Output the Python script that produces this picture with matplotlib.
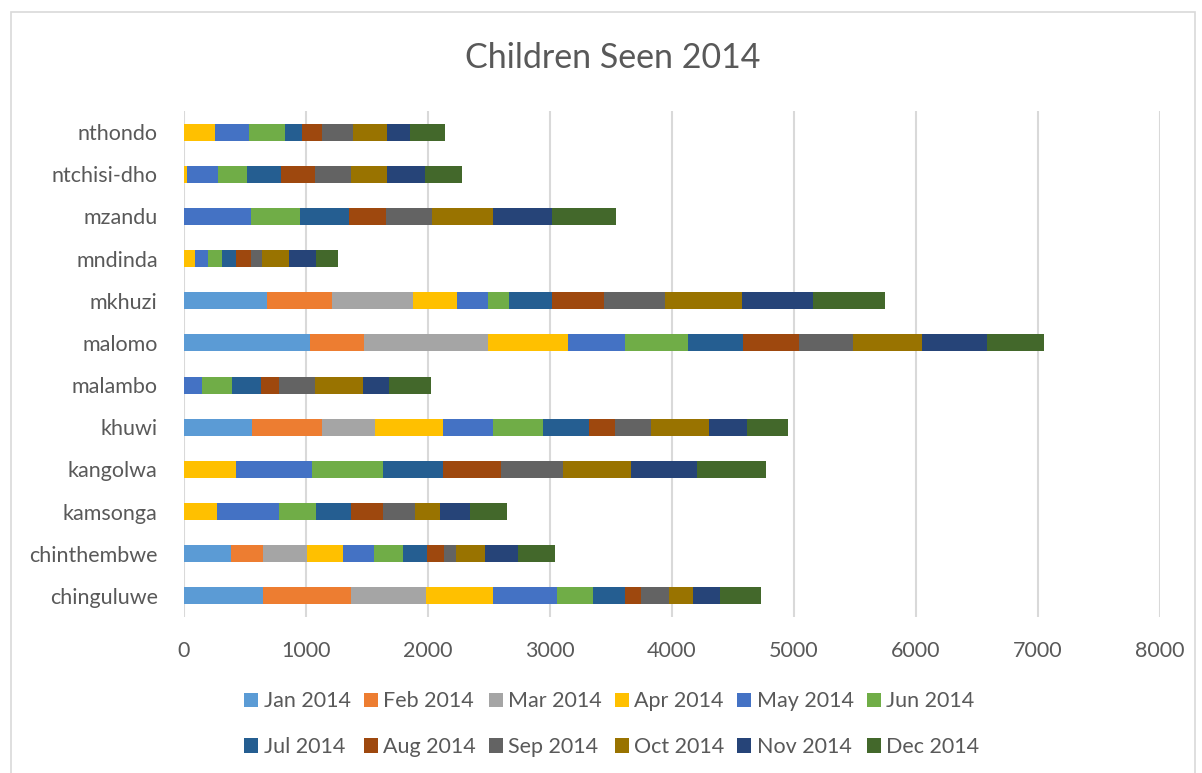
import matplotlib
matplotlib.use("Agg")
import matplotlib.pyplot as plt
from matplotlib.patches import Rectangle
import numpy as np

plt.rcParams['font.family'] = ['Lato', 'DejaVu Sans']

categories = ["chinguluwe", "chinthembwe", "kamsonga", "kangolwa", "khuwi", "malambo",
              "malomo", "mkhuzi", "mndinda", "mzandu", "ntchisi-dho", "nthondo"]
months = ["Jan 2014", "Feb 2014", "Mar 2014", "Apr 2014", "May 2014", "Jun 2014",
          "Jul 2014", "Aug 2014", "Sep 2014", "Oct 2014", "Nov 2014", "Dec 2014"]

# values per month, ordered as categories
jan = [651, 386, 0, 0, 561, 0, 1032, 684, 0, 0, 0, 0]
feb = [715, 265, 0, 0, 567, 0, 440, 531, 0, 0, 0, 0]
mar = [616, 356, 0, 0, 435, 0, 1016, 660, 0, 0, 0, 0]
apr = [550, 298, 271, 424, 563, 0, 656, 366, 93, 0, 27, 254]
may = [525, 249, 509, 622, 406, 151, 468, 252, 107, 550, 249, 282]
jun = [296, 241, 304, 582, 407, 243, 518, 173, 115, 400, 244, 293]
jul = [259, 195, 282, 496, 381, 238, 454, 353, 115, 399, 271, 137]
aug = [134, 142, 268, 473, 213, 143, 460, 424, 120, 309, 279, 169]
sep = [225, 98, 257, 509, 295, 295, 443, 498, 93, 373, 296, 247]
oct_ = [200, 239, 208, 561, 471, 400, 561, 630, 214, 503, 295, 282]
nov = [224, 271, 249, 539, 318, 208, 537, 588, 227, 482, 312, 192]
dec = [334, 303, 296, 567, 336, 347, 462, 588, 175, 528, 307, 279]

series = [jan, feb, mar, apr, may, jun, jul, aug, sep, oct_, nov, dec]
colors = ["#5B9BD5", "#ED7D31", "#A5A5A5", "#FFC000", "#4472C4", "#70AD47",
          "#255E91", "#9E480E", "#636363", "#997300", "#264478", "#43682B"]

text_color = "#595959"
fs = 15.5

fig = plt.figure(figsize=(12.02, 7.73), dpi=100)
ax = fig.add_axes([0.1531, 0.2018, 0.812, 0.6546])

y = np.arange(len(categories))
left = np.zeros(len(categories))
handles = []
for vals, col, lab in zip(series, colors, months):
    v = np.array(vals, dtype=float)
    h = ax.barh(y, v, left=left, height=0.4, color=col, label=lab, zorder=3)
    handles.append(h)
    left += v

ax.set_xlim(0, 8000)
ax.set_ylim(-0.5, len(categories) - 0.5)
ax.set_xticks(np.arange(0, 8001, 1000))
ax.set_yticks(y)
ax.set_yticklabels(categories)
ax.grid(axis='x', color="#D9D9D9", linewidth=1.5, zorder=0)
for s in ax.spines.values():
    s.set_visible(False)
ax.tick_params(axis='both', length=0, labelsize=fs, colors=text_color)
ax.tick_params(axis='y', pad=19)
ax.tick_params(axis='x', pad=17)

fig.text(0.5095, 0.925, "Children Seen 2014", ha='center', va='center',
         fontsize=24.5, color=text_color)

# reorder so legend reads row-wise (Jan..Jun on first row)
order = []
for c in range(6):
    order += [c, c + 6]
leg = fig.legend([handles[i] for i in order], [months[i] for i in order],
                 loc='center', bbox_to_anchor=(0.509, 0.063), ncol=6, frameon=False,
                 fontsize=fs, handlelength=0.65, handleheight=0.65, handletextpad=0.25,
                 columnspacing=0.6, labelspacing=1.2, labelcolor=text_color)

fig.patches.append(Rectangle((0.009, -0.01), 0.985, 0.995, transform=fig.transFigure,
                             fill=False, edgecolor="#D9D9D9", linewidth=1.2))

fig.savefig("out.png", dpi=100, facecolor="white")
